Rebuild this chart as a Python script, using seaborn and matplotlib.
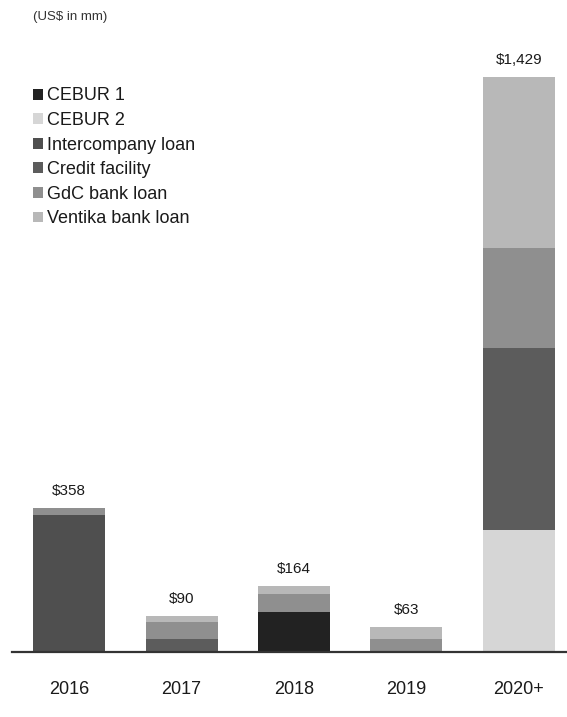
import matplotlib
matplotlib.use("Agg")
import matplotlib.pyplot as plt
import seaborn as sns
import numpy as np
from matplotlib.patches import Patch

# ---- data (US$ in mm) ----
years = ["2016", "2017", "2018", "2019", "2020+"]
series = ["CEBUR 1", "CEBUR 2", "Intercompany loan", "Credit facility",
          "GdC bank loan", "Ventika bank loan"]
cebur1 = [0, 0, 100, 0, 0]
cebur2 = [0, 0, 0, 0, 304]
intercompany = [341, 0, 0, 0, 0]
credit = [0, 32, 0, 0, 452]
gdc = [17, 43, 44, 33, 248]
ventika = [0, 15, 20, 30, 425]
total_labels = ["$358", "$90", "$164", "$63", "$1,429"]

colors = ["#222222", "#d6d6d6", "#4f4f4f", "#5c5c5c", "#8f8f8f", "#b8b8b8"]

sns.set_style("white")
plt.rcParams["font.family"] = ["Liberation Sans", "DejaVu Sans"]

fig = plt.figure(figsize=(5.67, 7.17), dpi=100)
ax = fig.add_axes([12 / 567, 65 / 717, 1 - 12 / 567, 652 / 717])

stack = np.array([cebur1, cebur2, intercompany, credit, gdc, ventika], dtype=float)
cum = np.cumsum(stack, axis=0)

# draw cumulative bars from the top series down so each lower one overlays
for i in range(len(series) - 1, -1, -1):
    sns.barplot(x=years, y=cum[i], order=years, color=colors[i], saturation=1,
                width=0.64, linewidth=0, ax=ax)

totals = cum[-1]
for i, (t, lab) in enumerate(zip(totals, total_labels)):
    ax.annotate(lab, (i, t), xytext=(0, 12), textcoords="offset points",
                ha="center", va="center", fontsize=11, color="#1a1a1a")

ax.set_xlim(-0.507, 4.427)
ax.set_ylim(0, 1620)
ax.set_yticks([])
ax.set_xlabel("")
ax.set_ylabel("")
for s in ["top", "right", "left"]:
    ax.spines[s].set_visible(False)
ax.spines["bottom"].set_color("#333333")
ax.spines["bottom"].set_linewidth(1.6)
ax.tick_params(axis="x", length=0, labelsize=13, pad=21, labelcolor="#1a1a1a")

fig.text(33 / 567, 1 - 17 / 717, "(US$ in mm)", fontsize=9.5, va="center",
         color="#333333")

handles = [Patch(facecolor=c, edgecolor="none") for c in colors]
fig.legend(handles, series, loc="upper left", bbox_to_anchor=(33 / 567, 0.878),
           frameon=False, fontsize=13, handlelength=0.55, handleheight=0.55,
           handletextpad=0.2, labelspacing=0.42, borderpad=0, borderaxespad=0,
           labelcolor="#1a1a1a")

fig.savefig("out.png", dpi=100)
